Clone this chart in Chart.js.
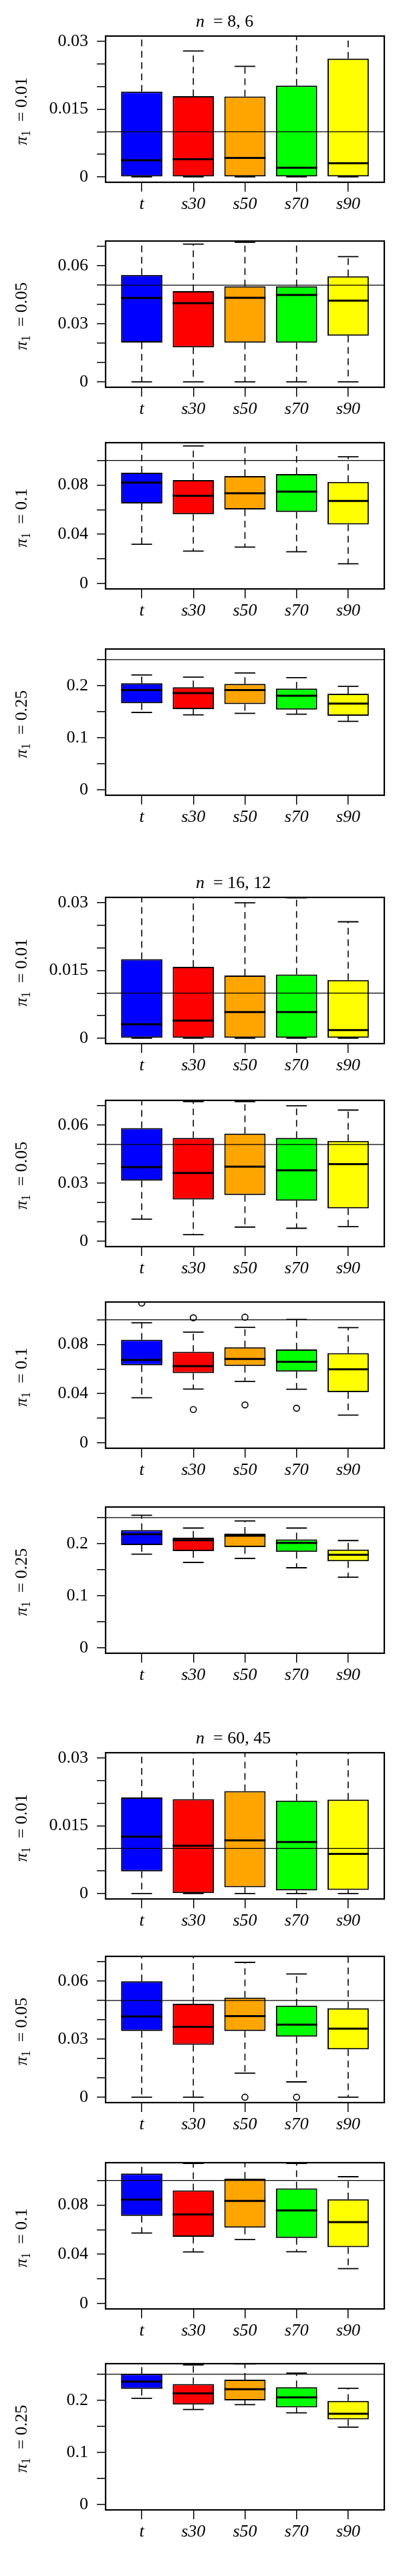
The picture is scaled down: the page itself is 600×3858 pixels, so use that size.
<!DOCTYPE html>
<html lang="en">
<head>
<meta charset="UTF-8">
<script src="https://cdn.jsdelivr.net/npm/chart.js"></script>
<title>Boxplots of pi1 estimates</title>
<style>
    * { margin: 0; padding: 0; box-sizing: border-box; }
    body { width: 600px; height: 3858px; background: #fff; position: relative; overflow: hidden; }
    canvas { position: absolute; left: 0; }
</style>
</head>
<body>
<script>
    const methods = ['t', 's30', 's50', 's70', 's90'];
    const boxColors = ['#0000ff', '#ff0000', '#ffa500', '#00ff00', '#ffff00'];
    const groupTitles = ['8, 6', '16, 12', '60, 45'];
    const truePi = [0.01, 0.05, 0.1, 0.25];
    const piLabels = ['0.01', '0.05', '0.1', '0.25'];
    const yLimit = [0.03, 0.07, 0.11, 0.26];
    const yTickStep = [0.005, 0.01, 0.02, 0.05];
    const yTickLabels = [[0, 0.015, 0.03], [0, 0.03, 0.06], [0, 0.04, 0.08], [0, 0.1, 0.2]];

    // each row: lower whisker, Q1, median, Q3, upper whisker  (t, s30, s50, s70, s90)
    const n8_001 = [[0, 0, 0.0037, 0.0189, 0.035], [0, 0, 0.0039, 0.0179, 0.0279], [0, 0, 0.0042, 0.0178, 0.0245], [0, 0, 0.0020, 0.0202, 0.035], [0, 0, 0.0030, 0.0262, 0.035]];
    const n8_005 = [[0, 0.0203, 0.0434, 0.0553, 0.08], [0, 0.0178, 0.0407, 0.0469, 0.0712], [0, 0.0202, 0.0435, 0.0494, 0.0722], [0, 0.0202, 0.0449, 0.0494, 0.08], [0, 0.0239, 0.0420, 0.0546, 0.0647]];
    const n8_010 = [[0.0319, 0.0651, 0.0820, 0.0900, 0.125], [0.0263, 0.0562, 0.0713, 0.0840, 0.1118], [0.0296, 0.0601, 0.0733, 0.0873, 0.125], [0.0258, 0.0581, 0.0747, 0.0889, 0.125], [0.0160, 0.0479, 0.0671, 0.0825, 0.1029]];
    const n8_025 = [[0.1486, 0.1662, 0.1914, 0.2047, 0.2206], [0.1439, 0.1550, 0.1859, 0.1970, 0.2163], [0.1469, 0.1645, 0.1914, 0.2034, 0.2244], [0.1452, 0.1542, 0.1807, 0.1944, 0.2154], [0.1315, 0.1422, 0.1657, 0.1846, 0.1987]];

    const n16_001 = [[0, 0, 0.0031, 0.0175, 0.035], [0, 0, 0.0039, 0.0158, 0.035], [0, 0, 0.0058, 0.0139, 0.0300], [0, 0, 0.0058, 0.0141, 0.0311], [0, 0, 0.0018, 0.0129, 0.0258]];
    const n16_005 = [[0.0114, 0.0313, 0.0383, 0.0585, 0.08], [0.0034, 0.0215, 0.0353, 0.0534, 0.0722], [0.0073, 0.0239, 0.0385, 0.0556, 0.0722], [0.0067, 0.0209, 0.0366, 0.0534, 0.0700], [0.0075, 0.0170, 0.0398, 0.0518, 0.0678]];
    const n16_010 = [[0.0366, 0.0630, 0.0674, 0.0837, 0.0975], [0.0437, 0.0566, 0.0623, 0.0740, 0.0899], [0.0499, 0.0625, 0.0681, 0.0777, 0.0938], [0.0435, 0.0579, 0.0658, 0.0759, 0.1002], [0.0225, 0.0412, 0.0598, 0.0729, 0.0936]];
    const n16_025 = [[0.1798, 0.1973, 0.2180, 0.2262, 0.2545], [0.1640, 0.1858, 0.2065, 0.2114, 0.2300], [0.1717, 0.1935, 0.2153, 0.2191, 0.2436], [0.1537, 0.1842, 0.2016, 0.2082, 0.2300], [0.1357, 0.1662, 0.1787, 0.1886, 0.2060]];

    const n60_001 = [[0, 0.0049, 0.0126, 0.0213, 0.035], [0, 0, 0.0106, 0.0209, 0.035], [0, 0.0014, 0.0118, 0.0227, 0.035], [0, 0.0007, 0.0114, 0.0206, 0.035], [0, 0.0008, 0.0088, 0.0208, 0.035]];
    const n60_005 = [[0, 0.0342, 0.0417, 0.0599, 0.08], [0, 0.0271, 0.0364, 0.0483, 0.08], [0.0124, 0.0342, 0.0419, 0.0515, 0.0697], [0.0079, 0.0313, 0.0375, 0.0473, 0.0637], [0, 0.0247, 0.0354, 0.0460, 0.08]];
    const n60_010 = [[0.0572, 0.0712, 0.0844, 0.1056, 0.125], [0.0419, 0.0542, 0.0723, 0.0919, 0.1138], [0.0519, 0.0616, 0.0833, 0.1014, 0.125], [0.0421, 0.0533, 0.0756, 0.0935, 0.1138], [0.0284, 0.0458, 0.0661, 0.0847, 0.1030]];
    const n60_025 = [[0.2038, 0.2219, 0.2362, 0.2510, 0.30], [0.1825, 0.1918, 0.2132, 0.2312, 0.2680], [0.1918, 0.2000, 0.2214, 0.2395, 0.2698], [0.1759, 0.1863, 0.2055, 0.2252, 0.2521], [0.1485, 0.1633, 0.1742, 0.1989, 0.2230]];

    // outliers per method
    const n16_010_out = [[0.1136], [0.1016, 0.0271], [0.1021, 0.0308], [0.0281], []];
    const n60_005_out = [[], [], [0], [0], []];
    const noOut = [[], [], [], [], []];

    const groups = [
        [n8_001, n8_005, n8_010, n8_025],
        [n16_001, n16_005, n16_010, n16_025],
        [n60_001, n60_005, n60_010, n60_025]
    ];
    const groupOutliers = [
        [noOut, noOut, noOut, noOut],
        [noOut, noOut, n16_010_out, noOut],
        [noOut, n60_005_out, noOut, noOut]
    ];

    // layout (top edge of each plot box)
    const plotTops = [[54, 361, 663, 972], [1344, 1648, 1950, 2257], [2625, 2930, 3239, 3540]];
    const PLOT_LEFT = 158, PLOT_RIGHT = 575, PLOT_H = 219, TOP_PAD = 54, CANVAS_H = 340;
    const FONT = '"Liberation Serif", "Times New Roman", serif';

    const boxPlugin = (stats, truth, piLabel, title) => ({
        id: 'boxes',
        beforeDatasetsDraw(chart) {
            const { ctx, chartArea: a, scales: { y } } = chart;
            const bars = chart.getDatasetMeta(0).data;
            ctx.save();
            ctx.beginPath();
            ctx.rect(a.left, a.top, a.width, a.height);
            ctx.clip();
            ctx.strokeStyle = '#000';
            bars.forEach((bar, i) => {
                const [lo, q1, , q3, hi] = stats[i];
                const cap = bar.width / 4;
                ctx.lineWidth = 1.6;
                ctx.setLineDash([10, 7]);
                ctx.beginPath();
                ctx.moveTo(bar.x, y.getPixelForValue(q3));
                ctx.lineTo(bar.x, y.getPixelForValue(hi));
                ctx.moveTo(bar.x, y.getPixelForValue(q1));
                ctx.lineTo(bar.x, y.getPixelForValue(lo));
                ctx.stroke();
                ctx.setLineDash([]);
                ctx.lineWidth = 1.8;
                ctx.beginPath();
                [lo, hi].forEach(v => {
                    const py = y.getPixelForValue(v);
                    ctx.moveTo(bar.x - cap, py);
                    ctx.lineTo(bar.x + cap, py);
                });
                ctx.stroke();
            });
            ctx.restore();
        },
        afterDatasetsDraw(chart) {
            const { ctx, chartArea: a, scales: { y } } = chart;
            const bars = chart.getDatasetMeta(0).data;
            ctx.save();
            ctx.strokeStyle = '#000';
            // medians
            ctx.lineWidth = 3;
            bars.forEach((bar, i) => {
                const py = y.getPixelForValue(stats[i][2]);
                ctx.beginPath();
                ctx.moveTo(bar.x - bar.width / 2, py);
                ctx.lineTo(bar.x + bar.width / 2, py);
                ctx.stroke();
            });
            // true value
            const ry = y.getPixelForValue(truth);
            ctx.lineWidth = 1.3;
            ctx.beginPath();
            ctx.moveTo(a.left, ry);
            ctx.lineTo(a.right, ry);
            ctx.stroke();
            ctx.restore();
        },
        afterDraw(chart) {
            const { ctx, chartArea: a } = chart;
            ctx.save();
            ctx.strokeStyle = '#000';
            ctx.lineWidth = 2.2;
            ctx.strokeRect(a.left, a.top, a.width, a.height);

            ctx.fillStyle = '#000';
            ctx.textBaseline = 'middle';
            // y title: pi_1 = value
            ctx.translate(33, (a.top + a.bottom) / 2 + 3);
            ctx.rotate(-Math.PI / 2);
            const fPi = 'italic 26px ' + FONT, fSub = '18px ' + FONT, fTxt = '26px ' + FONT;
            const rest = '  = ' + piLabel;
            ctx.font = fPi; const w1 = ctx.measureText('\u03c0').width;
            ctx.font = fSub; const w2 = ctx.measureText('1').width;
            ctx.font = fTxt; const w3 = ctx.measureText(rest).width;
            let x = -(w1 + w2 + w3) / 2;
            ctx.textAlign = 'left';
            ctx.font = fPi; ctx.fillText('\u03c0', x, 0); x += w1;
            ctx.font = fSub; ctx.fillText('1', x, 7); x += w2;
            ctx.font = fTxt; ctx.fillText(rest, x, 0);
            ctx.restore();

            if (title) {
                ctx.save();
                ctx.fillStyle = '#000';
                ctx.textBaseline = 'middle';
                ctx.textAlign = 'left';
                let tx = 293;
                const ty = a.top - 21;
                ctx.font = 'italic 26px ' + FONT;
                ctx.fillText('n', tx, ty);
                tx += ctx.measureText('n').width;
                ctx.font = '26px ' + FONT;
                ctx.fillText('  = ' + title, tx, ty);
                ctx.restore();
            }
        }
    });

    groups.forEach((panels, g) => {
        panels.forEach((stats, p) => {
            const canvas = document.createElement('canvas');
            canvas.width = 600;
            canvas.height = CANVAS_H;
            canvas.style.top = (plotTops[g][p] - TOP_PAD) + 'px';
            document.body.appendChild(canvas);

            const lim = yLimit[p];
            const tickVals = [];
            for (let v = 0; v <= lim + 1e-9; v += yTickStep[p]) tickVals.push(Math.round(v * 1e6) / 1e6);
            const labeled = yTickLabels[p];

            const outPts = [];
            groupOutliers[g][p].forEach((vals, i) => vals.forEach(v => outPts.push({ x: i + 1, y: v })));

            new Chart(canvas, {
                type: 'bar',
                data: {
                    datasets: [{
                        type: 'bar',
                        data: stats.map((s, i) => ({ x: i + 1, y: [s[1], s[3]] })),
                        backgroundColor: boxColors,
                        borderColor: '#000',
                        borderWidth: 2,
                        borderSkipped: false,
                        barPercentage: 0.8,
                        categoryPercentage: 1
                    }, {
                        type: 'scatter',
                        data: outPts,
                        pointRadius: 4.5,
                        pointBackgroundColor: 'rgba(0,0,0,0)',
                        pointBorderColor: '#000',
                        pointBorderWidth: 1.6
                    }]
                },
                options: {
                    responsive: false,
                    animation: false,
                    devicePixelRatio: 1,
                    layout: { padding: { left: 0, right: 600 - PLOT_RIGHT, top: TOP_PAD, bottom: 0 } },
                    plugins: { legend: { display: false }, title: { display: false }, tooltip: { enabled: false } },
                    scales: {
                        x: {
                            type: 'linear', min: 0.3, max: 5.7, offset: false,
                            afterBuildTicks: s => { s.ticks = methods.map((m, i) => ({ value: i + 1 })); },
                            afterFit: s => { s.height = CANVAS_H - TOP_PAD - PLOT_H; },
                            grid: { offset: false, drawOnChartArea: false, tickLength: 14, color: '#000', lineWidth: 1.5 },
                            border: { display: false },
                            ticks: {
                                callback: v => methods[Math.round(v) - 1],
                                font: { family: FONT, size: 26, style: 'italic' },
                                color: '#000', padding: 4, maxRotation: 0, autoSkip: false
                            }
                        },
                        y: {
                            type: 'linear', min: -0.04 * lim, max: 1.04 * lim,
                            afterBuildTicks: s => { s.ticks = tickVals.map(v => ({ value: v })); },
                            afterFit: s => { s.width = PLOT_LEFT; },
                            grid: { drawOnChartArea: false, tickLength: 13, color: '#000', lineWidth: 1.5 },
                            border: { display: false },
                            ticks: {
                                callback: v => {
                                    const l = labeled.find(t => Math.abs(t - v) < 1e-9);
                                    return l === undefined ? '' : String(l);
                                },
                                font: { family: FONT, size: 26 },
                                color: '#000', padding: 13, autoSkip: false
                            }
                        }
                    }
                },
                plugins: [boxPlugin(stats, truePi[p], piLabels[p], p === 0 ? groupTitles[g] : null)]
            });
        });
    });
</script>
</body>
</html>
